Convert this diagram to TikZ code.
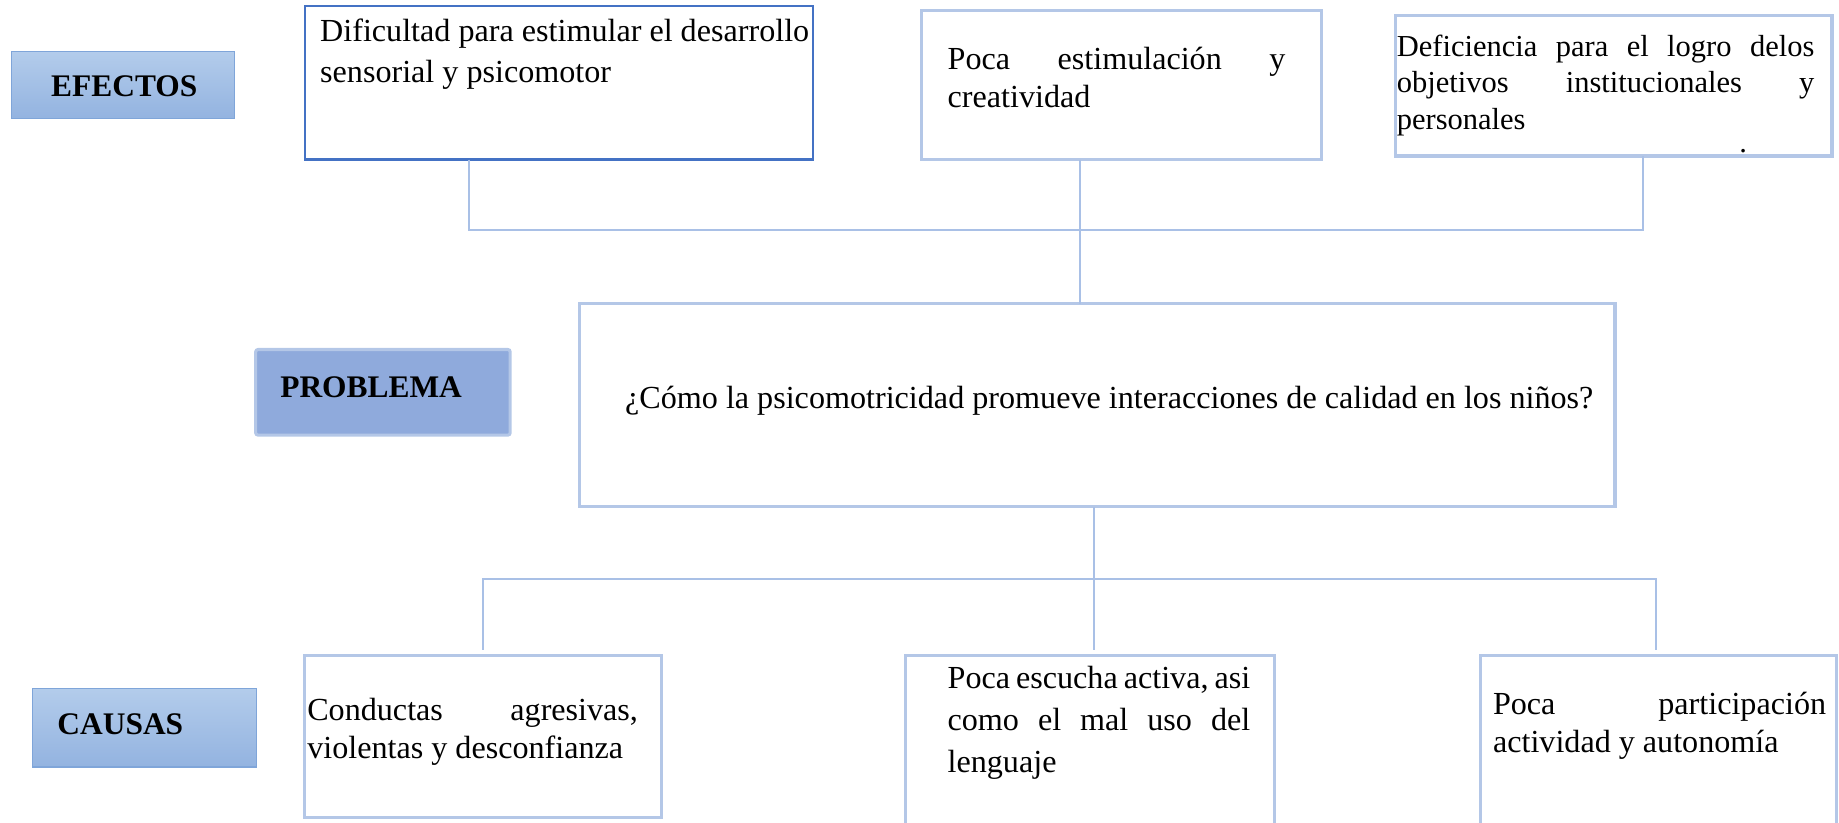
\documentclass[tikz,border=0pt]{standalone}
\usepackage{fontspec}
\setmainfont{Liberation Serif}
\definecolor{boxline}{HTML}{B4C7E7}
\definecolor{darkline}{HTML}{4472C4}
\definecolor{connline}{HTML}{A9C0E6}
\definecolor{gradtop}{HTML}{B3CCEB}
\definecolor{gradbot}{HTML}{93B3E0}
\definecolor{gradline}{HTML}{7FA5D9}
\definecolor{probfill}{HTML}{8FAADC}
\begin{document}
\begin{tikzpicture}[x=0.5pt,y=-0.5pt,
  cbox/.style={draw=boxline, line width=1.3pt, fill=white, anchor=north west, inner sep=0pt, outer sep=0pt},
  dbox/.style={draw=darkline, line width=0.9pt, fill=white, anchor=north west, inner sep=0pt, outer sep=0pt},
  gbox/.style={draw=gradline, line width=0.5pt, top color=gradtop, bottom color=gradbot, anchor=north west, inner sep=0pt, outer sep=0pt},
  pbox/.style={draw=boxline, line width=1.3pt, fill=probfill, rounded corners=1pt, anchor=north west, inner sep=0pt, outer sep=0pt},
  txt/.style={anchor=base west, inner sep=0pt, outer sep=0pt, font=\fontsize{13.7}{17}\selectfont},
  smalltxt/.style={anchor=base west, inner sep=0pt, outer sep=0pt, font=\fontsize{13}{16}\selectfont},
  lbltxt/.style={anchor=base west, inner sep=0pt, outer sep=0pt, font=\fontsize{13.4}{16}\selectfont\bfseries},
  conn/.style={draw=connline, line width=0.9pt}]
\useasboundingbox (0,0) rectangle (1568,701);

% label boxes
\node[gbox, minimum width=95pt, minimum height=28.5pt] (lef) at (10,44) {};
\node[pbox, minimum width=108.5pt, minimum height=36.5pt] (lpr) at (218,298) {};
\node[gbox, minimum width=95.5pt, minimum height=33.5pt] (lca) at (28,587) {};
\node[lbltxt, anchor=base] (tlef) at (106,82) {EFECTOS};
\node[lbltxt] (tlpr) at (239,339) {PROBLEMA};
\node[lbltxt] (tlca) at (49,626) {CAUSAS};

% effect boxes
\node[dbox, minimum width=216.5pt, minimum height=65.5pt] (e1) at (260,5) {};
\node[cbox, minimum width=170.5pt, minimum height=63.5pt] (e2) at (786,9) {};
\node[cbox, minimum width=186pt, minimum height=60pt] (e3) at (1190,13) {};

% problem box
\node[cbox, minimum width=441.5pt, minimum height=86.5pt] (prob) at (494,259) {};

% cause boxes
\node[cbox, minimum width=152pt, minimum height=69pt] (c1) at (260,559) {};
\node[cbox, minimum width=157.5pt, minimum height=80pt] (c2) at (772,559) {};
\node[cbox, minimum width=152pt, minimum height=80pt] (c3) at (1262,559) {};

% texts
\node[txt] (te1) at (273,35) {\vtop{\baselineskip=17.5pt\hbox{Dificultad para estimular el desarrollo}\hbox{sensorial y psicomotor}}};
\node[txt] (te2) at (808,59) {\vtop{\baselineskip=16.5pt\hbox to 144pt{Poca\hfill estimulación\hfill y}\hbox{creatividad}}};
\node[smalltxt] (te3) at (1191,48) {\vtop{\baselineskip=15.5pt\hbox to 178pt{Deficiencia\hfill para\hfill el\hfill logro\hfill delos}\hbox to 178pt{objetivos\hfill institucionales\hfill y}\hbox{personales}}};
\node[smalltxt] (tdot) at (1483,130) {.};
\node[txt] (tprob) at (533,348) {¿Cómo la psicomotricidad promueve interacciones de calidad en los niños?};
\node[txt] (tc1) at (262,614) {\vtop{\baselineskip=16.5pt\hbox to 141pt{Conductas\hfill agresivas,}\hbox{violentas y desconfianza}}};
\node[txt] (tc2) at (808,587) {\vtop{\baselineskip=18pt\hbox to 129pt{Poca\hfill escucha\hfill activa,\hfill asi}\hbox to 129pt{como\hfill el\hfill mal\hfill uso\hfill del}\hbox{lenguaje}}};
\node[txt] (tc3) at (1273,609) {\vtop{\baselineskip=16.5pt\hbox to 142pt{Poca\hfill participación}\hbox{actividad y autonomía}}};

% connector junctions
\coordinate (j1) at (400,196);
\coordinate (j2) at (921,196);
\coordinate (j3) at (1401,196);
\coordinate (k1) at (412,494);
\coordinate (k2) at (933,494);
\coordinate (k3) at (1412,494);
\coordinate (k1b) at (412,554);
\coordinate (k2b) at (933,554);
\coordinate (k3b) at (1412,554);

\draw[conn] (e1.south -| j1) -- (j1) -- (j3) -- (e3.south -| j3);
\draw[conn] (e2.south -| j2) -- (j2) -- (prob.north -| j2);
\draw[conn] (prob.south -| k2) -- (k2b);
\draw[conn] (k1b) -- (k1) -- (k3) -- (k3b);
\end{tikzpicture}
\end{document}
